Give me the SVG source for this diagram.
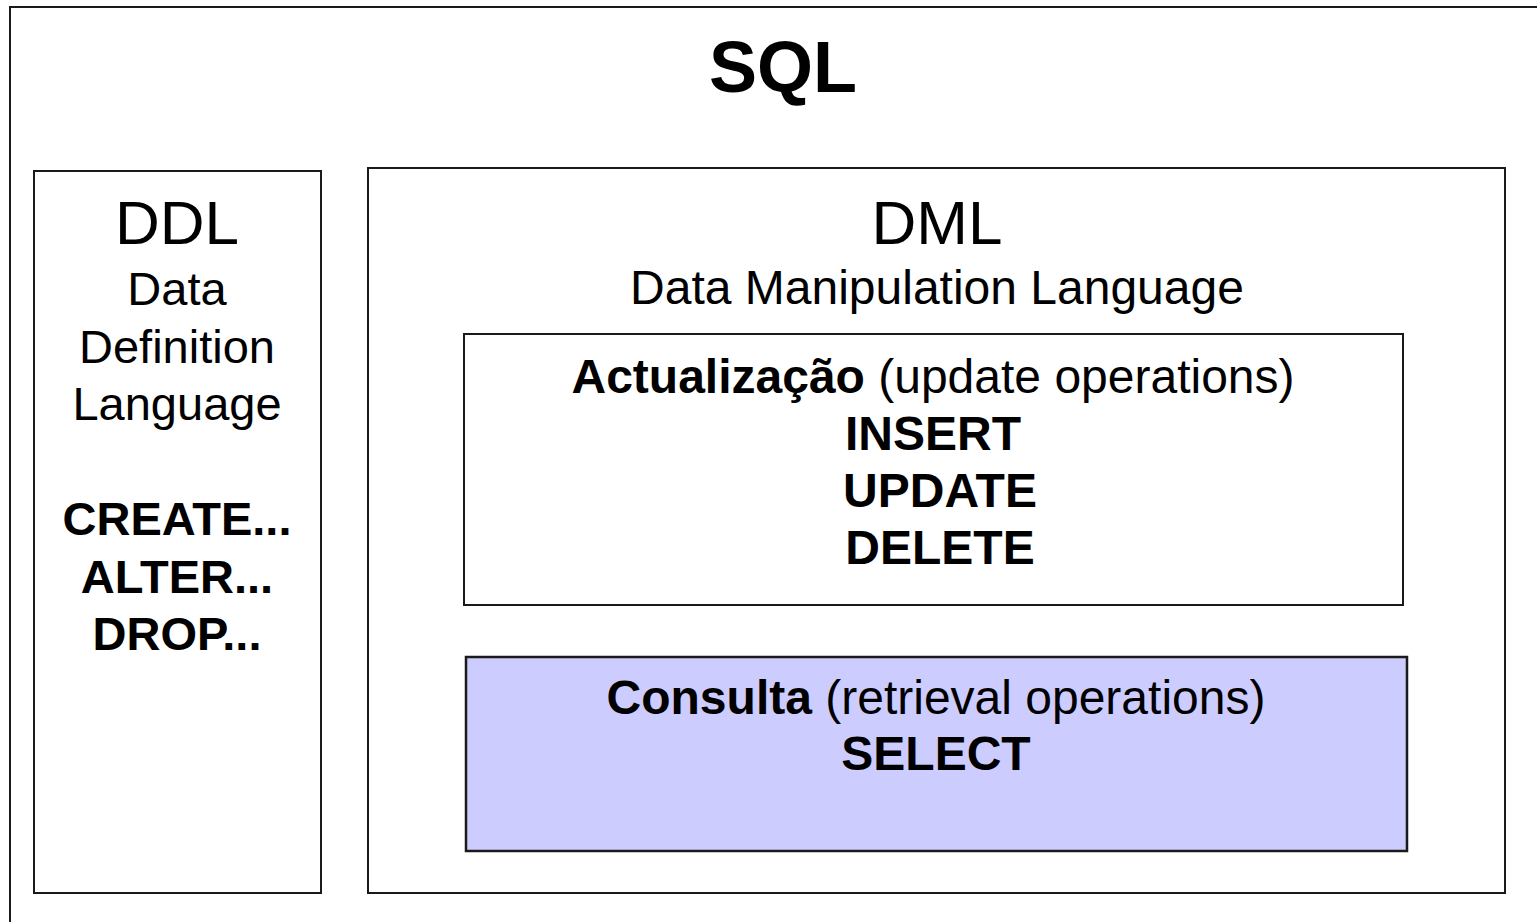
<svg xmlns="http://www.w3.org/2000/svg" width="1537" height="922" viewBox="0 0 1537 922">
<style>
  .box { fill: #ffffff; stroke: #1a1a1a; stroke-width: 2; }
  .blue { fill: #ccccff; stroke: #1a1a1a; stroke-width: 2.5; }
  text { font-family: "Liberation Sans", Arial, sans-serif; fill: #000; text-anchor: middle; }
  .b { font-weight: bold; }
  .big { font-size: 62px; }
  .mid { font-size: 48px; }
  .ddl { font-size: 47px; }
  .n { font-weight: normal; }
</style>
<rect width="1537" height="922" fill="#ffffff"/>
<g id="sql">
  <rect class="box" x="10" y="7" width="1560" height="940"/>
  <text class="b" x="783" y="92" font-size="72">SQL</text>
</g>
<g id="ddl">
  <rect class="box" x="34" y="171" width="287" height="722"/>
  <text class="big" x="177" y="244">DDL</text>
  <text class="ddl" x="177" y="305">Data</text>
  <text class="ddl" x="177" y="363">Definition</text>
  <text class="ddl" x="177" y="420">Language</text>
  <text class="ddl b" x="177" y="535">CREATE...</text>
  <text class="ddl b" x="177" y="593">ALTER...</text>
  <text class="ddl b" x="177" y="650">DROP...</text>
</g>
<g id="dml">
  <rect class="box" x="368" y="168" width="1137" height="725"/>
  <text class="big" x="937" y="244">DML</text>
  <text class="mid" x="937" y="304">Data Manipulation Language</text>
</g>
<g id="actualizacao">
  <rect class="box" x="464" y="334" width="939" height="271"/>
  <text class="mid" x="933" y="393"><tspan class="b">Actualização</tspan> (update operations)</text>
  <text class="mid b" x="933" y="450">INSERT</text>
  <text class="mid b" x="940" y="507">UPDATE</text>
  <text class="mid b" x="940" y="564">DELETE</text>
</g>
<g id="consulta">
  <rect class="blue" x="466" y="657" width="941" height="194"/>
  <text class="mid" x="936" y="714"><tspan class="b">Consulta</tspan> (retrieval operations)</text>
  <text class="mid b" x="936" y="770">SELECT</text>
</g>
<g id="connectors"></g>
</svg>
